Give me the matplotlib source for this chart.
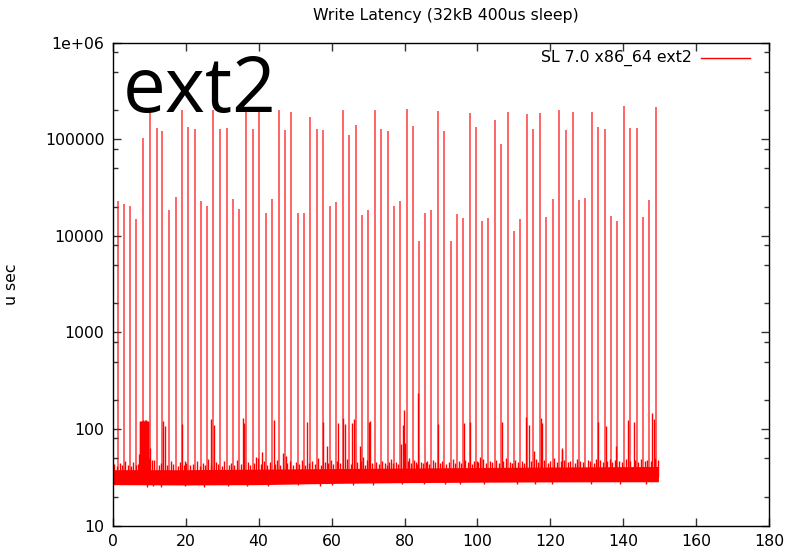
import matplotlib
matplotlib.use("Agg")
import matplotlib.pyplot as plt
from matplotlib.ticker import LogLocator, NullFormatter, FixedLocator

# ---- data -----------------------------------------------------------------
# large write-latency stalls (elapsed seconds, usec)
stall_x = [1.5, 3.2, 4.8, 6.5, 8.4, 10.1, 12.1, 13.6, 15.4, 17.3,
           18.9, 20.7, 22.5, 24.1, 25.8, 27.6, 29.5, 31.3, 32.9, 34.7,
           36.5, 38.4, 40.2, 41.9, 43.6, 45.5, 47.1, 49.0, 50.7, 52.4,
           54.2, 55.9, 57.6, 59.5, 61.1, 63.0, 64.7, 66.6, 68.3, 70.0,
           71.8, 73.5, 75.4, 77.0, 78.8, 80.6, 82.2, 83.9, 85.6, 87.2,
           89.1, 90.9, 92.7, 94.3, 95.9, 97.9, 99.5, 101.2, 102.9, 104.7,
           106.4, 108.3, 109.9, 111.6, 113.6, 115.3, 117.0, 118.8, 120.6, 122.3,
           124.2, 126.1, 127.8, 129.6, 131.4, 133.1, 134.9, 136.5, 138.2, 140.2,
           141.8, 143.7, 145.4, 147.1, 149.0]
stall_us = [22960, 21230, 20400, 14960, 104000, 193000, 131800, 122000, 18400, 25300,
            201000, 134000, 127900, 22960, 20400, 201000, 127900, 131000, 24100, 19000,
            201000, 127900, 201000, 17300, 24100, 201000, 125900, 191500, 17300, 17300,
            170000, 127900, 125900, 20400, 22400, 201000, 110800, 140600, 16500, 18500,
            201000, 127900, 122000, 20400, 22960, 206000, 137000, 8860, 17300, 18500,
            196000, 122000, 8860, 16800, 15300, 187000, 134000, 14250, 15300, 158500,
            89400, 191500, 11250, 14960, 183000, 127900, 187000, 15700, 24100, 201000,
            124800, 191500, 23540, 24700, 191500, 134000, 127900, 16070, 14250, 221000,
            131000, 131000, 15700, 23540, 216000]

# medium latency bursts
burst_x = [7.2, 7.4, 7.6, 7.8, 8.0, 8.2, 8.4, 8.6, 8.8, 9.0,
           9.2, 9.4, 9.6, 9.8, 10.0, 10.3, 10.9,
           13.8, 14.3, 19.0, 19.9, 27.0, 27.8, 35.6, 36.1, 39.4, 40.9,
           44.1, 47.6, 53.3, 57.6, 58.7, 61.9, 63.2, 63.6, 65.7, 66.2,
           67.8, 68.7, 70.3, 70.5, 75.8, 78.9, 79.5, 79.9, 80.2, 81.2,
           83.2, 83.7, 85.9, 89.2, 96.3, 97.9, 99.8, 100.7, 106.6, 113.4,
           114.2, 115.5, 117.3, 117.7, 123.1, 123.2, 133.1, 135.1, 138.0, 141.3,
           142.9, 147.9, 148.3]
burst_us = [55, 118, 121, 122, 120, 119, 123, 121, 124, 125,
            118, 122, 120, 118, 50, 64, 48,
            122, 107, 114, 47, 127, 110, 129, 115, 52, 58,
            124, 53, 119, 118, 67, 117, 130, 114, 117, 126,
            67, 52, 119, 122, 46, 70, 110, 159, 72, 50,
            46, 235, 46, 114, 117, 119, 47, 51, 119, 133,
            110, 60, 130, 117, 63, 61, 119, 107, 67, 124,
            119, 146, 128]

# small jitter above the steady-state band
jitter_x = [0.3, 1.1, 1.9, 2.6, 3.4, 4.2, 5.0, 5.7, 6.3, 7.0,
            11.4, 12.6, 13.2, 14.8, 15.9, 16.6, 17.8, 18.4, 19.5, 20.2,
            21.3, 22.0, 23.1, 23.8, 24.7, 25.3, 26.2, 26.9, 28.2, 28.8,
            29.9, 30.6, 31.8, 32.4, 33.3, 34.0, 35.1, 37.0, 37.7, 38.8,
            39.8, 40.6, 41.4, 42.3, 43.0, 44.6, 45.1, 46.0, 46.6, 47.9,
            48.5, 49.5, 50.2, 51.1, 51.8, 52.8, 53.8, 54.7, 55.4, 56.3,
            57.0, 58.2, 59.1, 59.9, 60.5, 61.5, 62.4, 64.2, 65.2, 67.1,
            68.0, 69.2, 69.7, 71.2, 72.3, 73.0, 73.9, 74.6, 75.1, 76.3,
            76.8, 77.6, 78.3, 80.9, 81.8, 82.6, 83.4, 84.4, 85.1, 86.2,
            86.7, 87.7, 88.4, 89.6, 90.3, 91.4, 92.1, 93.2, 93.8, 94.8,
            95.4, 96.7, 97.3, 98.4, 99.0, 100.2, 101.6, 102.4, 103.3, 104.1,
            105.2, 105.8, 107.0, 107.7, 108.8, 109.4, 110.4, 111.0, 112.1, 112.8,
            114.8, 116.0, 116.6, 118.3, 119.2, 119.9, 121.1, 121.8, 122.8, 123.7,
            124.7, 125.4, 126.6, 127.3, 128.2, 129.0, 130.2, 130.8, 131.9, 132.6,
            133.6, 134.4, 135.6, 136.2, 137.0, 137.7, 138.7, 139.5, 140.7, 141.9,
            143.3, 144.1, 144.9, 145.8, 146.6, 147.5, 148.7, 149.4]
jitter_us = [44, 41, 45, 42, 47, 43, 41, 46, 42, 44,
             48, 43, 45, 42, 47, 44, 41, 46, 43, 45,
             42, 44, 47, 41, 45, 43, 49, 42, 46, 44,
             41, 47, 43, 45, 42, 48, 44, 46, 43, 45,
             50, 44, 47, 42, 46, 44, 48, 43, 56, 45,
             47, 43, 46, 44, 48, 42, 45, 47, 44, 50,
             43, 46, 45, 48, 44, 47, 45, 49, 44, 46,
             47, 43, 48, 45, 46, 44, 47, 45, 43, 49,
             45, 46, 44, 47, 45, 48, 44, 46, 45, 47,
             44, 48, 46, 45, 47, 44, 46, 49, 45, 47,
             45, 48, 46, 44, 47, 46, 49, 45, 47, 46,
             48, 45, 47, 50, 46, 45, 48, 46, 47, 45,
             47, 49, 46, 48, 45, 47, 50, 46, 47, 48,
             46, 47, 45, 49, 47, 46, 48, 47, 45, 49,
             48, 46, 47, 49, 46, 48, 47, 46, 49, 47,
             48, 46, 49, 47, 48, 47, 50, 48]

# occasional dips below the band
dip_x = [9.5, 11.0, 13.3, 19.7, 25.0, 31.6, 36.9, 42.7, 50.9, 56.7,
         60.2, 66.0, 71.4, 79.3, 85.3, 91.0, 95.1, 101.8, 110.8, 115.8,
         120.3, 131.2, 139.2, 146.2]
dip_us = [25.2, 25.5, 25.3, 25.6, 25.4, 25.8, 25.5, 25.7, 26.2, 26.0,
          26.5, 26.4, 26.6, 26.9, 26.7, 27.0, 26.9, 27.2, 27.0, 27.1,
          26.8, 27.2, 27.0, 27.1]

# steady-state latency band (lower / upper edge)
band_x = [0, 20, 40, 60, 80, 100, 120, 149.6]
band_lo = [26.6, 26.4, 26.6, 27.4, 27.9, 28.2, 28.4, 28.5]
band_hi = [38.0, 38.0, 38.5, 39.0, 39.5, 40.0, 40.5, 41.0]

x_ticks = [0, 20, 40, 60, 80, 100, 120, 140, 160, 180]
y_ticks = [10, 100, 1000, 10000, 100000, 1000000]
y_ticklabels = ["10", "100", "1000", "10000", "100000", "1e+06"]

# ---- figure ---------------------------------------------------------------
plt.rcParams["font.family"] = ["DejaVu Sans"]
fig = plt.figure(figsize=(7.88, 5.55), dpi=100)
ax = fig.add_axes([0.1430, 0.0528, 0.9763 - 0.1430, 0.9231 - 0.0528])

red = "#ff0000"
base = 32.0
ax.fill_between(band_x, band_lo, band_hi, color=red, linewidth=0)
ax.vlines(dip_x, dip_us, base, color=red, linewidth=1.0)
ax.vlines(jitter_x, base, jitter_us, color=red, linewidth=1.0)
ax.vlines(burst_x, base, burst_us, color=red, linewidth=1.0)
ax.vlines(stall_x, base, stall_us, color=red, linewidth=1.2, alpha=0.7)

ax.set_xlim(0, 180)
ax.set_yscale("log")
ax.set_ylim(10, 1e6)

ax.xaxis.set_major_locator(FixedLocator(x_ticks))
ax.set_xticklabels([str(v) for v in x_ticks])
ax.yaxis.set_major_locator(FixedLocator(y_ticks))
ax.set_yticklabels(y_ticklabels)
ax.yaxis.set_minor_locator(LogLocator(base=10, subs=(2.0, 5.0, 8.0)))
ax.yaxis.set_minor_formatter(NullFormatter())

ax.tick_params(which="both", direction="in", top=True, right=True,
               color="#333333", labelsize=11.3, labelcolor="black")
ax.tick_params(which="major", length=6, width=1, pad=6)
ax.tick_params(which="minor", length=3.5, width=1)
for s in ax.spines.values():
    s.set_linewidth(1.0)
    s.set_color("black")

ax.set_ylabel("u sec", fontsize=11.3)
ax.yaxis.set_label_coords(-0.142, 0.5)
fig.text(0.5655, 0.972, "Write Latency (32kB 400us sleep)", ha="center",
         va="center", fontsize=11.3)

# legend entry
fig.text(692 / 788, 1 - 58 / 555, "SL 7.0 x86_64 ext2", ha="right",
         va="center", fontsize=11.3)
fig.add_artist(plt.Line2D([701 / 788, 750 / 788], [1 - 58 / 555] * 2,
                          color=red, linewidth=1.0, transform=fig.transFigure))

# big annotation
ax.text(0.016, 0.977, "ext2", transform=ax.transAxes, ha="left", va="top",
        fontsize=55, family=["Open Sans"], color="black")

fig.savefig("out.png", dpi=100)
